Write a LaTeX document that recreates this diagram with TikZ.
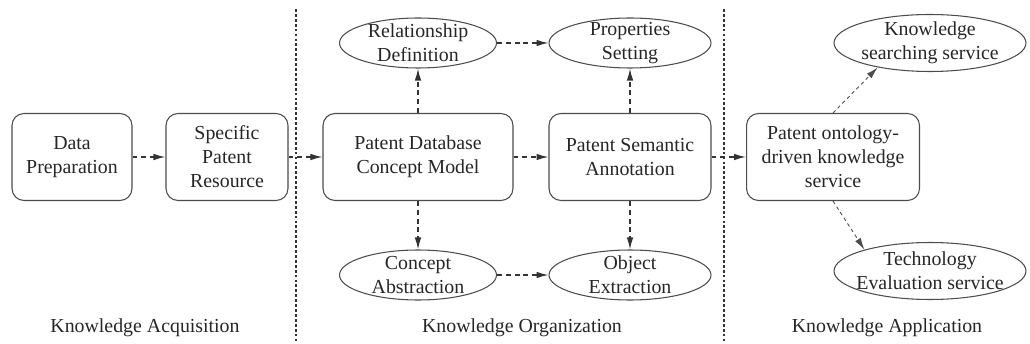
\documentclass[tikz,border=0pt]{standalone}
\usepackage{fontspec}
\setmainfont{Liberation Serif}
\usetikzlibrary{shapes.geometric,arrows.meta}

\begin{document}
\begin{tikzpicture}[x=0.02cm,y=-0.02cm,
    every node/.style={font=\fontsize{11.3}{13.6}\selectfont, align=center, text=black!85},
    box/.style={draw=black!70, line width=0.6pt, rounded corners=0.24cm, minimum height=1.74cm, inner sep=1pt},
    oval/.style={draw=black!70, line width=0.6pt, ellipse, minimum height=1cm, inner sep=0pt},
    flow/.style={draw=black!80, line width=0.7pt, dash pattern=on 2.8pt off 2.2pt, -{Latex[length=2.4mm,width=1.3mm]}},
    thinflow/.style={draw=black!70, line width=0.5pt, dash pattern=on 2pt off 1.8pt, -{Latex[length=2.4mm,width=1.3mm]}},
    divider/.style={draw=black!80, line width=0.7pt, dash pattern=on 1.6pt off 1.2pt}]
    \useasboundingbox (0,0) rectangle (1030,344);

    % Stage dividers
    \draw[divider] (296,9) -- (296,344);
    \draw[divider] (724,9) -- (724,344);

    % Knowledge acquisition
    \node[box, minimum width=2.4cm] (data) at (72,157) {Data\\Preparation};
    \node[box, minimum width=2.44cm] (spec) at (227,157) {Specific\\Patent\\Resource};

    % Knowledge organization
    \node[box, minimum width=3.8cm] (pdcm) at (418,157) {Patent Database\\Concept Model};
    \node[box, minimum width=3.24cm] (psa) at (630,157) {Patent Semantic\\Annotation};
    \node[oval, minimum width=3.14cm, label={center:{Relationship\\Definition}}] (rel) at (418,43) {};
    \node[oval, minimum width=3.24cm, label={center:{Properties\\Setting}}] (prop) at (630,43) {};
    \node[oval, minimum width=3.14cm, label={center:{Concept\\Abstraction}}] (conc) at (418,275) {};
    \node[oval, minimum width=3.24cm, label={center:{Object\\Extraction}}] (obj) at (630,275) {};

    % Knowledge application
    \node[box, minimum width=3.46cm] (ont) at (833,157) {Patent ontology-\\driven knowledge\\service};
    \node[oval, minimum width=3.84cm, minimum height=1.14cm, label={center:{Knowledge\\searching service}}] (search) at (930,43) {};
    \node[oval, minimum width=3.84cm, minimum height=1.14cm, label={center:{Technology\\Evaluation service}}] (tech) at (930,271) {};

    % Stage labels
    \node (acq) at (145,328) {Knowledge Acquisition};
    \node (org) at (522,328) {Knowledge Organization};
    \node (app) at (887,328) {Knowledge Application};

    % Connectors
    \draw[flow] (data) -- (spec);
    \draw[flow] (spec) -- (pdcm);
    \draw[flow] (pdcm) -- (psa);
    \draw[flow] (psa) -- (ont);
    \draw[flow] (pdcm) -- (rel);
    \draw[flow] (psa) -- (prop);
    \draw[flow] (rel) -- (prop);
    \draw[flow] (pdcm) -- (conc);
    \draw[flow] (psa) -- (obj);
    \draw[flow] (conc) -- (obj);
    \draw[thinflow] (ont.north) -- (search.205);
    \draw[thinflow] (ont.south) -- (tech.162);
\end{tikzpicture}
\end{document}
